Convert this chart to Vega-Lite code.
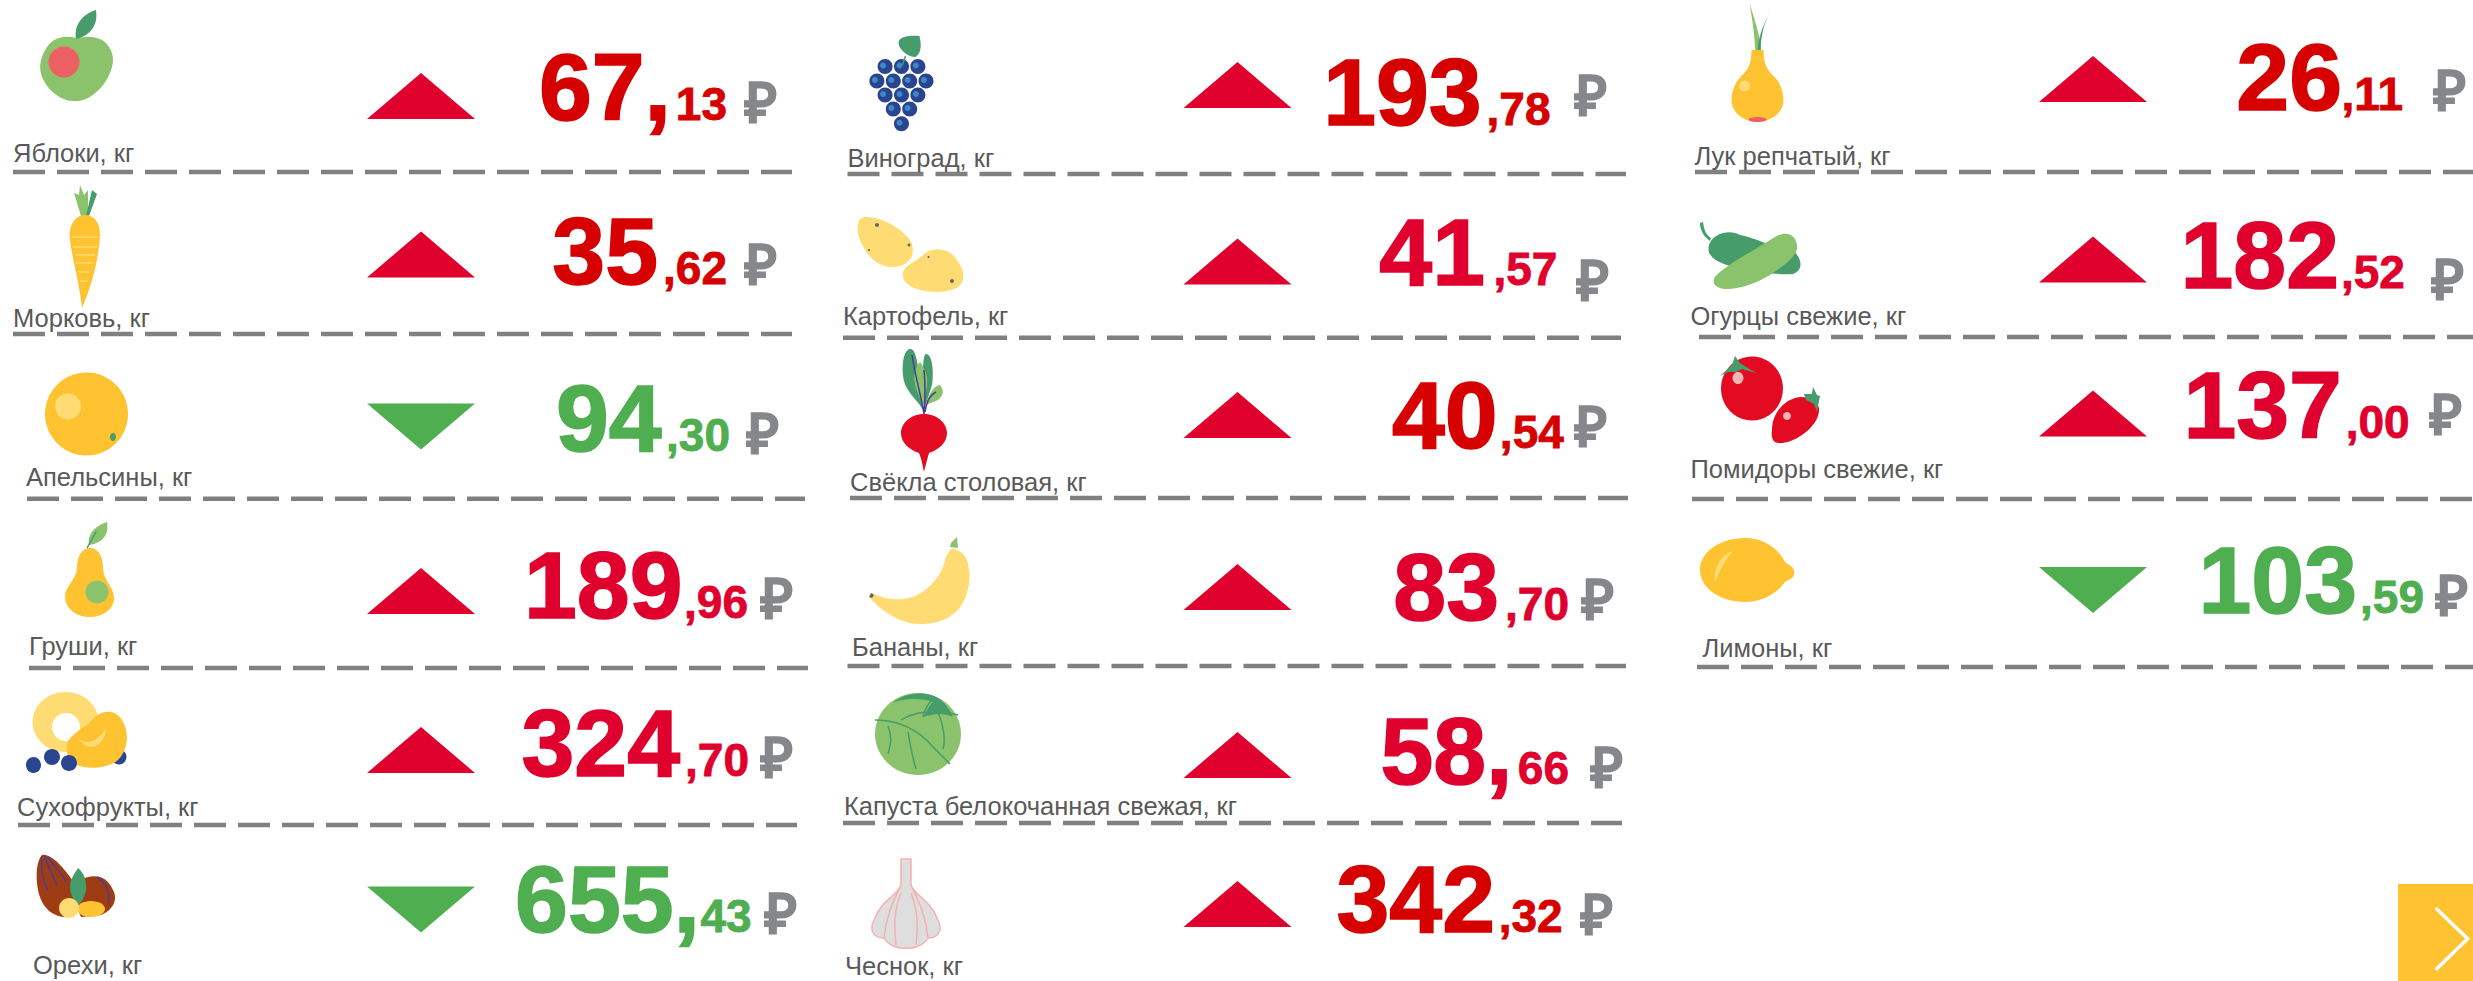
{"$schema":"https://vega.github.io/schema/vega-lite/v6.json","width":2473,"height":981,"padding":0,"autosize":"none","background":"#ffffff","config":{"view":{"stroke":null},"text":{"font":"Liberation Sans"}},
"datasets":{
"items":[
{"n":1,"name":"Яблоки, кг","rub":"67,","kop":"13","ruble":"₽","dir":"up","tone":"deep"},
{"n":2,"name":"Морковь, кг","rub":"35","kop":",62","ruble":"₽","dir":"up","tone":"deep"},
{"n":3,"name":"Апельсины, кг","rub":"94","kop":",30","ruble":"₽","dir":"down","tone":"green"},
{"n":4,"name":"Груши, кг","rub":"189","kop":",96","ruble":"₽","dir":"up","tone":"crimson"},
{"n":5,"name":"Сухофрукты, кг","rub":"324","kop":",70","ruble":"₽","dir":"up","tone":"crimson"},
{"n":6,"name":"Орехи, кг","rub":"655,","kop":"43","ruble":"₽","dir":"down","tone":"green"},
{"n":7,"name":"Виноград, кг","rub":"193","kop":",78","ruble":"₽","dir":"up","tone":"deep"},
{"n":8,"name":"Картофель, кг","rub":"41","kop":",57","ruble":"₽","dir":"up","tone":"crimson"},
{"n":9,"name":"Свёкла столовая, кг","rub":"40","kop":",54","ruble":"₽","dir":"up","tone":"deep"},
{"n":10,"name":"Бананы, кг","rub":"83","kop":",70","ruble":"₽","dir":"up","tone":"crimson"},
{"n":11,"name":"Капуста белокочанная свежая, кг","rub":"58,","kop":"66","ruble":"₽","dir":"up","tone":"crimson"},
{"n":12,"name":"Чеснок, кг","rub":"342","kop":",32","ruble":"₽","dir":"up","tone":"deep"},
{"n":13,"name":"Лук репчатый, кг","rub":"26","kop":",11","ruble":"₽","dir":"up","tone":"deep"},
{"n":14,"name":"Огурцы свежие, кг","rub":"182","kop":",52","ruble":"₽","dir":"up","tone":"crimson"},
{"n":15,"name":"Помидоры свежие, кг","rub":"137","kop":",00","ruble":"₽","dir":"up","tone":"crimson"},
{"n":16,"name":"Лимоны, кг","rub":"103","kop":",59","ruble":"₽","dir":"down","tone":"green"}],
"dividers":[{"from":1,"to":15},{"from":2,"to":16},{"from":3,"to":17},{"from":4,"to":18},{"from":5,"to":19},{"from":6,"to":20},{"from":7,"to":21},{"from":8,"to":22},{"from":9,"to":23},{"from":10,"to":24},{"from":11,"to":25},{"from":12,"to":26},{"from":13,"to":27},{"from":14,"to":28}],
"iconParts":[
{"n":1,"part":"appleBody","tint":"leaf"},{"n":1,"part":"appleLeaf","tint":"forest"},{"n":1,"part":"appleSpot","tint":"coral"},
{"n":2,"part":"carrotTopA","tint":"leaf"},{"n":2,"part":"carrotTopB","tint":"forest"},{"n":2,"part":"carrotBody","tint":"gold"},
{"n":3,"part":"orangeBody","tint":"gold"},{"n":3,"part":"orangeShine","tint":"cream"},{"n":3,"part":"orangeDot","tint":"forest"},
{"n":4,"part":"pearLeaf","tint":"leaf"},{"n":4,"part":"pearBody","tint":"gold"},{"n":4,"part":"pearSpot","tint":"leaf"},
{"n":5,"part":"berryBack","tint":"navy"},{"n":5,"part":"ring","tint":"cream"},{"n":5,"part":"ringHole","tint":"white"},{"n":5,"part":"apricot","tint":"gold"},{"n":5,"part":"apricotShine","tint":"cream"},{"n":5,"part":"berries","tint":"navy"},
{"n":6,"part":"almond","tint":"brown"},{"n":6,"part":"hazel","tint":"brown"},{"n":6,"part":"nutLeaf","tint":"forest"},{"n":6,"part":"nutGold","tint":"gold"},{"n":6,"part":"nutCream","tint":"cream"},
{"n":7,"part":"grapeLeaf","tint":"forest"},{"n":7,"part":"grapes","tint":"navy"},{"n":7,"part":"grapeShine","tint":"sky"},
{"n":8,"part":"potatoes","tint":"cream"},{"n":8,"part":"potatoDots","tint":"slate"},
{"n":9,"part":"beetDark","tint":"forest"},{"n":9,"part":"beetLight","tint":"leaf"},{"n":9,"part":"beetRoot","tint":"red"},
{"n":10,"part":"banana","tint":"cream"},{"n":10,"part":"bananaTip","tint":"leaf"},{"n":10,"part":"bananaEnd","tint":"slate"},
{"n":11,"part":"cabbage","tint":"leaf"},{"n":11,"part":"cabbageTop","tint":"forest"},
{"n":12,"part":"garlic","tint":"silver"},
{"n":13,"part":"onionGreenA","tint":"leaf"},{"n":13,"part":"onionGreenB","tint":"forest"},{"n":13,"part":"onion","tint":"gold"},{"n":13,"part":"onionShine","tint":"cream"},{"n":13,"part":"onionBase","tint":"coral"},
{"n":14,"part":"cukeStem","tint":"forest"},{"n":14,"part":"cukeDark","tint":"forest"},{"n":14,"part":"cuke","tint":"leaf"},
{"n":15,"part":"tomatoA","tint":"red"},{"n":15,"part":"tomatoB","tint":"red"},{"n":15,"part":"tomatoStars","tint":"forest"},{"n":15,"part":"tomatoShine","tint":"blush"},
{"n":16,"part":"lemon","tint":"gold"},{"n":16,"part":"lemonShine","tint":"cream"},
{"n":17,"part":"navBox","tint":"gold"}],
"iconLines":[
{"n":2,"part":"carrotStripes","tint":"cream"},
{"n":4,"part":"pearStem","tint":"forest"},
{"n":6,"part":"nutVeins","tint":"violet"},
{"n":7,"part":"grapeStem","tint":"forest"},
{"n":9,"part":"beetVeins","tint":"violet"},
{"n":11,"part":"cabbageVeins","tint":"forest"},
{"n":12,"part":"garlicOutline","tint":"pink"},
{"n":17,"part":"navArrow","tint":"white"}]},
"resolve":{"scale":{"x":"independent","y":"independent","color":"independent","fill":"independent","stroke":"independent","shape":"independent"}},
"layer":[
{"data":{"name":"dividers"},"mark":{"type":"rule","stroke":"#808080","strokeWidth":4.5,"strokeDash":[32,12]},
"encoding":{"x":{"field":"from","type":"quantitative","axis":null,"scale":{"domain":[1,2,3,4,5,6,7,8,9,10,11,12,13,14,15,16,17,18,19,20,21,22,23,24,25,26,27,28],"range":[13,13,27,29,18,847.5,843,850,847.5,843,1695,1699,1692,1697,792,792,805,808,797,1626,1621,1628,1626,1622,2473,2473,2473,2473]}},"x2":{"field":"to"},
"y":{"field":"from","type":"quantitative","axis":null,"scale":{"domain":[1,2,3,4,5,6,7,8,9,10,11,12,13,14],"range":[172,334,498.7,668,825,174,337.7,498,666,823,172,337,499,667]}}}},
{"data":{"name":"iconParts"},"mark":{"type":"point","filled":true,"opacity":1,"size":4,"strokeWidth":0},
"encoding":{"x":{"field":"n","type":"quantitative","axis":null,"scale":{"domain":[1,2,3,4,5,6,7,8,9,10,11,12,13,14,15,16,17],"range":[77,85,86.5,90,70,75,901.5,910,924,920,918,906,1757.5,1755,1770,1745,2435.5]}},
"y":{"field":"n","type":"quantitative","axis":null,"scale":{"domain":[1,2,3,4,5,6,7,8,9,10,11,12,13,14,15,16,17],"range":[69,250,414,583,730,885,95,254,430,580,734,905,90,255,400,570,932.5]}},
"fill":{"field":"tint","type":"nominal","legend":null,"scale":{"domain":["gold","cream","leaf","forest","red","coral","navy","sky","brown","white","silver","slate","blush"],"range":["#FFC230","#FFDC73","#8AC36C","#469C6A","#E30B22","#EC6064","#2A4590","#3F87C9","#9E3D14","#FFFFFF","#DEDEDE","#666666","#F5B5B5"]}},
"shape":{"field":"part","type":"nominal","legend":null,"scale":{"domain":["appleBody","appleLeaf","appleSpot","carrotTopA","carrotTopB","carrotBody","orangeBody","orangeShine","orangeDot","pearLeaf","pearBody","pearSpot","berryBack","ring","ringHole","apricot","apricotShine","berries","almond","hazel","nutLeaf","nutGold","nutCream","grapeLeaf","grapes","grapeShine","potatoes","potatoDots","beetDark","beetLight","beetRoot","banana","bananaTip","bananaEnd","cabbage","cabbageTop","garlic","onionGreenA","onionGreenB","onion","onionShine","onionBase","cukeStem","cukeDark","cuke","tomatoA","tomatoB","tomatoStars","tomatoShine","lemon","lemonShine","navBox"],
"range":[
"M-1,-31C-8,-33 -22,-34 -30,-22C-38,-10 -39,2 -33,12C-27,24 -13,33 -2,32C10,33 24,22 31,8C38,-5 38,-16 29,-26C20,-34 9,-32 -1,-31Z",
"M-1,-30C-3,-42 3,-54 19,-59C21,-45 15,-34 -1,-30Z",
"M-28.5,-7a15.5,15.5 0 1 0 31,0a15.5,15.5 0 1 0 -31,0Z",
"M-4,-34L-11,-57L-6,-55L-5,-65L-1,-55L3,-60L3,-34Z",
"M1,-34L7,-60L12,-56L4,-34Z",
"M0,-35C9,-35 15,-28 15,-15C14,5 9,30 -3,58C-6,30 -14,5 -15.5,-15C-15,-28 -8,-35 0,-35Z",
"M-41.5,0a41.5,41.5 0 1 0 83,0a41.5,41.5 0 1 0 -83,0Z",
"M-31.5,-7.5a13,13 0 1 0 26,0a13,13 0 1 0 -26,0Z",
"M23.5,23a3,4 0 1 0 6,0a3,4 0 1 0 -6,0Z",
"M-1,-38C-3,-48 4,-57 17,-61C19,-50 14,-40 -1,-38Z",
"M0,-35C8,-35 13,-27 13,-15C13,-3 24,4 24,15C24,27 12,34 0,34C-12,34 -25,27 -25,13C-25,3 -13,-4 -13,-15C-13,-27 -8,-35 0,-35Z",
"M-4.5,9a11.5,11.5 0 1 0 23,0a11.5,11.5 0 1 0 -23,0Z",
"M41.5,27a7.5,7.5 0 1 0 15,0a7.5,7.5 0 1 0 -15,0Z",
"M-37.5,-8a33,30 0 1 0 66,0a33,30 0 1 0 -66,0Z",
"M-18,-3a14,14 0 1 0 28,0a14,14 0 1 0 -28,0Z",
"M-3,15C-2,5 15,-2 22,-10C30,-20 45,-22 52,-10C60,3 58,20 48,30C38,39 15,40 5,34C-2,30 -4,24 -3,15Z",
"M8,8C16,16 28,12 36,-2C36,14 20,26 8,8Z",
"M-44,35a7.5,8 0 1 0 15,0a7.5,8 0 1 0 -15,0ZM-26,27a8,8 0 1 0 16,0a8,8 0 1 0 -16,0ZM-9,33a8,8 0 1 0 16,0a8,8 0 1 0 -16,0Z",
"M-33,-30C-22,-32 -5,-10 3,5C6,18 4,28 -6,32C-20,33 -33,25 -37,5C-40,-10 -38,-25 -33,-30Z",
"M5,-5C18,-12 32,-10 38,5C44,16 36,26 26,30L6,32C0,20 0,5 5,-5Z",
"M3,-17C9,-12 12,-5 11,5C9,14 6,18 3,20C-2,15 -5,8 -5,2C-5,-6 0,-12 3,-17Z",
"M2,24a14,8 0 1 0 28,0a14,8 0 1 0 -28,0Z",
"M-16,23a10,10 0 1 0 20,0a10,10 0 1 0 -20,0Z",
"M18,-59C20,-50 20,-42 14,-38C6,-38 -3,-46 -3,-52C-3,-58 6,-60 18,-59Z",
"M-23.9,-28.5a7.5,7.5 0 1 0 15,0a7.5,7.5 0 1 0 -15,0ZM-7.5,-28.5a7.5,7.5 0 1 0 15,0a7.5,7.5 0 1 0 -15,0ZM8.9,-28.5a7.5,7.5 0 1 0 15,0a7.5,7.5 0 1 0 -15,0ZM-32.1,-14a7.5,7.5 0 1 0 15,0a7.5,7.5 0 1 0 -15,0ZM-15.7,-14a7.5,7.5 0 1 0 15,0a7.5,7.5 0 1 0 -15,0ZM0.7,-14a7.5,7.5 0 1 0 15,0a7.5,7.5 0 1 0 -15,0ZM17,-14a7.5,7.5 0 1 0 15,0a7.5,7.5 0 1 0 -15,0ZM-23.9,0a7.5,7.5 0 1 0 15,0a7.5,7.5 0 1 0 -15,0ZM-7.5,0a7.5,7.5 0 1 0 15,0a7.5,7.5 0 1 0 -15,0ZM8.9,0a7.5,7.5 0 1 0 15,0a7.5,7.5 0 1 0 -15,0ZM-15.7,14a7.5,7.5 0 1 0 15,0a7.5,7.5 0 1 0 -15,0ZM0.7,14a7.5,7.5 0 1 0 15,0a7.5,7.5 0 1 0 -15,0ZM-7.5,28.7a7.5,7.5 0 1 0 15,0a7.5,7.5 0 1 0 -15,0Z",
"M-21.4,-29.5a3,3 0 1 0 6,0a3,3 0 1 0 -6,0ZM-5,-29.5a3,3 0 1 0 6,0a3,3 0 1 0 -6,0ZM11.4,-29.5a3,3 0 1 0 6,0a3,3 0 1 0 -6,0ZM-29.6,-15a3,3 0 1 0 6,0a3,3 0 1 0 -6,0ZM-13.2,-15a3,3 0 1 0 6,0a3,3 0 1 0 -6,0ZM3.2,-15a3,3 0 1 0 6,0a3,3 0 1 0 -6,0ZM19.5,-15a3,3 0 1 0 6,0a3,3 0 1 0 -6,0ZM-21.4,-1a3,3 0 1 0 6,0a3,3 0 1 0 -6,0ZM-5,-1a3,3 0 1 0 6,0a3,3 0 1 0 -6,0ZM11.4,-1a3,3 0 1 0 6,0a3,3 0 1 0 -6,0ZM-13.2,13a3,3 0 1 0 6,0a3,3 0 1 0 -6,0ZM3.2,13a3,3 0 1 0 6,0a3,3 0 1 0 -6,0ZM-5,27.7a3,3 0 1 0 6,0a3,3 0 1 0 -6,0Z",
"M-46,-37C-32,-38 -10,-28 0,-14C6,-4 3,8 -10,12C-24,16 -40,8 -47,-8C-54,-20 -55,-34 -46,-37ZM-7,21C-8,12 6,8 14,0C24,-8 40,-6 47,6C56,18 56,30 44,35C30,40 12,38 2,33C-4,30 -7,26 -7,21Z",
"M-35,-29a2,2 0 1 0 4,0a2,2 0 1 0 -4,0ZM-2.5,-9a1.5,1.5 0 1 0 3,0a1.5,1.5 0 1 0 -3,0ZM-42,-4a1,1 0 1 0 2,0a1,1 0 1 0 -2,0ZM40,27a2,2 0 1 0 4,0a2,2 0 1 0 -4,0ZM17.5,3a1,1 0 1 0 2,0a1,1 0 1 0 -2,0Z",
"M-14,-81C-8,-82 -6,-65 -4,-50L0,-18C-5,-30 -20,-38 -21,-55C-22,-68 -20,-80 -14,-81ZM2,-76C8,-76 10,-60 8,-45L0,-20L-1,-60C-1,-68 0,-76 2,-76Z",
"M-4,-68C2,-60 5,-50 2,-40L0,-25C-6,-35 -12,-48 -9,-58C-8,-63 -6,-66 -4,-68ZM16,-45C20,-40 20,-35 14,-30L2,-25C4,-33 8,-44 16,-45Z",
"M0,-16C14,-16 23,-6 23,3C23,13 14,20 5,23C3,30 1,38 0,42C-1,38 -2,30 -5,23C-14,20 -23,13 -23,3C-23,-6 -14,-16 0,-16Z",
"M32,-32C37,-30 44,-28 47,-20C52,-5 50,15 38,30C26,42 12,44 0,44C-20,44 -40,30 -50,18L-48,13C-35,20 -20,21 -8,17C8,12 22,-5 25,-20C26,-25 29,-28 32,-32Z",
"M30,-33L31,-37L37,-43L38,-32Z",
"M-51,17L-49,13L-46,15L-48,18Z",
"M-43,0a43,41 0 1 0 86,0a43,41 0 1 0 -86,0Z",
"M-25,-31C-15,-41 10,-45 24,-33C30,-27 33,-22 35,-17C25,-22 15,-20 5,-17C10,-25 12,-30 15,-32C5,-36 -15,-36 -25,-31Z",
"M-5,-46H5V-20C8,-10 25,-5 32,15C38,28 30,33 22,33C18,40 8,44 0,43C-8,44 -18,40 -22,33C-30,33 -38,28 -32,15C-25,-5 -8,-10 -5,-20Z",
"M-8,-87C-3,-70 3,-55 4,-35L-2,-35C-3,-55 -5,-70 -8,-87Z",
"M13,-78C5,-65 3,-50 3,-36L0,-36C0,-50 5,-65 13,-78Z",
"M-6,-40L6,-40C6,-25 10,-20 16,-14C23,-8 26,3 26,10C26,22 14,32 0,32C-14,32 -26,22 -26,10C-26,3 -23,-8 -16,-14C-10,-20 -6,-25 -6,-40Z",
"M-18.5,-4a5.5,5.5 0 1 0 11,0a5.5,5.5 0 1 0 -11,0Z",
"M-9,29.5a9,2.5 0 1 0 18,0a9,2.5 0 1 0 -18,0Z",
"M-55,-32L-52,-33C-51,-25 -49,-20 -44,-17L-45,-14C-51,-18 -55,-25 -55,-32Z",
"M-46,-10C-42,-22 -25,-26 -15,-20C-5,-18 5,-14 10,-12L38,-5C48,5 48,15 38,19C25,20 10,18 -10,15C-30,10 -50,5 -46,-10Z",
"M-40,22C-30,10 0,-5 20,-18C30,-24 40,-22 42,-10C44,0 30,10 15,20C-5,32 -25,36 -35,33C-41,31 -43,27 -40,22Z",
"M-49,-11.5a31,32 0 1 0 62,0a31,32 0 1 0 -62,0Z",
"M2,30C2,15 12,2 25,-2C35,-5 47,0 49,8C50,18 42,28 32,35C22,42 10,45 5,42C2,40 1,35 2,30Z",
"M-50,-24L-38,-35L-35,-44L-30,-37L-14,-27L-28,-31L-34,-28L-42,-28ZM34,-6L42,-6L43,-13L47,-5L50,-4L48,6L47,12L44,4L36,0Z",
"M-37.5,-22a5.5,6 0 1 0 11,0a5.5,6 0 1 0 -11,0ZM13,16a4,4 0 1 0 8,0a4,4 0 1 0 -8,0Z",
"M0,-32C18,-32 33,-22 40,-8L47,-3C50,0 50,5 47,8L40,12C32,24 16,32 0,32C-25,32 -45,18 -45,0C-45,-18 -25,-32 0,-32Z",
"M-30,12C-32,0 -25,-15 -12,-19C-20,-10 -25,0 -30,12Z",
"M-37.5,-48.5H37.5V48.5H-37.5Z"]}}}},
{"data":{"name":"iconLines"},"transform":[{"filter":"datum.n<17"}],"mark":{"type":"point","filled":false,"fill":null,"opacity":1,"size":4,"strokeWidth":1.5},
"encoding":{"x":{"field":"n","type":"quantitative","axis":null,"scale":{"domain":[2,4,6,7,9,11,12],"range":[85,90,75,901.5,924,918,906]}},
"y":{"field":"n","type":"quantitative","axis":null,"scale":{"domain":[2,4,6,7,9,11,12],"range":[250,583,885,95,430,734,905]}},
"stroke":{"field":"tint","type":"nominal","legend":null,"scale":{"domain":["cream","forest","violet","pink"],"range":["#FFDC73","#469C6A","#4A3C93","#F7B0B0"]}},
"shape":{"field":"part","type":"nominal","legend":null,"scale":{"domain":["carrotStripes","pearStem","nutVeins","grapeStem","beetVeins","cabbageVeins","garlicOutline"],"range":[
"M-13,-13H13M-12,-3H12M-10,5H10M-9,13H8M-7,22H5M-5,31H3",
"M-3,-35L6,-51",
"M-33,-28C-35,-10 -30,0 -27,5M-30,-29C-26,-15 -20,-5 -18,0M-27,-28C-20,-18 -12,-10 -9,-3M22,-8C32,-2 35,8 33,18",
"M4,-39L1,-30",
"M0,-16C-3,-35 -8,-50 -12,-75M0,-16C1,-30 1,-50 0,-60M1,-18C3,-30 6,-35 12,-38",
"M-43,-14C-20,-14 0,-5 16,14L32,30M-17,-14C-5,-22 15,-25 40,-19M5,-17C6,-25 12,-33 17,-37M-30,-8C-25,5 -28,12 -30,20M-10,-2C-8,10 -5,25 -2,35M20,-22C25,-10 28,5 25,15",
"M-5,-46H5V-20C8,-10 25,-5 32,15C38,28 30,33 22,33C18,40 8,44 0,43C-8,44 -18,40 -22,33C-30,33 -38,28 -32,15C-25,-5 -8,-10 -5,-20ZM-5,-20C-12,-5 -20,10 -22,33M5,-20C12,-5 20,10 22,33M-5,-12C-12,5 -12,20 -10,40M5,-12C12,5 12,20 10,40"]}}}},
{"data":{"name":"iconLines"},"transform":[{"filter":"datum.n==17"}],"mark":{"type":"point","filled":false,"fill":null,"opacity":1,"size":4,"strokeWidth":3.5,"stroke":"#FFFFFF","strokeCap":"round","shape":"M1.2,-23.5L32.2,6.2L1.2,36.2"},
"encoding":{"x":{"field":"n","type":"quantitative","axis":null,"scale":{"domain":[17,18],"range":[2435.5,2436]}},"y":{"field":"n","type":"quantitative","axis":null,"scale":{"domain":[17,18],"range":[932.5,933]}}}},
{"data":{"name":"items"},"mark":{"type":"point","filled":true,"opacity":1,"size":4,"strokeWidth":0},
"encoding":{"x":{"field":"n","type":"quantitative","axis":null,"scale":{"domain":[1,2,3,4,5,6,7,8,9,10,11,12,13,14,15,16],"range":[421,421,421,421,421,421,1237.5,1237.5,1237.5,1237.5,1237.5,1237.5,2093,2093,2093,2093]}},
"y":{"field":"n","type":"quantitative","axis":null,"scale":{"domain":[1,2,3,4,5,6,7,8,9,10,11,12,13,14,15,16],"range":[96,254.5,426.5,591,750,909.5,85,261.5,415,587,755,904,79,259.5,413.5,590]}},
"shape":{"field":"dir","type":"nominal","legend":null,"scale":{"domain":["up","down"],"range":["M0,-23L54,23L-54,23Z","M-54,-23L54,-23L0,23Z"]}},
"fill":{"field":"dir","type":"nominal","legend":null,"scale":{"domain":["up","down"],"range":["#E0002D","#4FAE50"]}}}},
{"data":{"name":"items"},"mark":{"type":"text","align":"left","baseline":"alphabetic","fontSize":25.5,"font":"Liberation Sans","fill":"#595959"},
"encoding":{"text":{"field":"name"},"x":{"field":"n","type":"quantitative","axis":null,"scale":{"domain":[1,2,3,4,5,6,7,8,9,10,11,12,13,14,15,16],"range":[13,13,26,29,17,33,847.5,843,850,852,844,845,1694.6,1690.4,1690.4,1702.5]}},
"y":{"field":"n","type":"quantitative","axis":null,"scale":{"domain":[1,2,3,4,5,6,7,8,9,10,11,12,13,14,15,16],"range":[162,327,486,655,816,974,167,325,491,656,815,975,165,325,478,657]}}}},
{"data":{"name":"items"},"mark":{"type":"text","align":"right","baseline":"alphabetic","fontSize":95,"fontWeight":"bold","font":"Liberation Sans","strokeWidth":1.6},
"encoding":{"text":{"field":"rub"},"x":{"field":"n","type":"quantitative","axis":null,"scale":{"domain":[1,2,3,4,5,6,7,8,9,10,11,12,13,14,15,16],"range":[671,658,661.6,682.5,680,700,1481.7,1485,1497.6,1499,1512.5,1495,2342,2339,2341.9,2357]}},
"y":{"field":"n","type":"quantitative","axis":null,"scale":{"domain":[1,2,3,4,5,6,7,8,9,10,11,12,13,14,15,16],"range":[120,284,451,618,776,932,125,285,448,620,784,932,110,288,438,613]}},
"fill":{"field":"tone","type":"nominal","legend":null,"scale":{"domain":["deep","crimson","green"],"range":["#D60000","#E0002D","#4FAE50"]}},
"stroke":{"field":"tone","type":"nominal","legend":null,"scale":{"domain":["deep","crimson","green"],"range":["#D60000","#E0002D","#4FAE50"]}}}},
{"data":{"name":"items"},"mark":{"type":"text","align":"right","baseline":"alphabetic","fontSize":46,"fontWeight":"bold","font":"Liberation Sans","strokeWidth":0.8},
"encoding":{"text":{"field":"kop"},"x":{"field":"n","type":"quantitative","axis":null,"scale":{"domain":[1,2,3,4,5,6,7,8,9,10,11,12,13,14,15,16],"range":[727,727,730,748,749,751.6,1550.5,1557.4,1563.8,1569,1569,1562.7,2403,2404.9,2409.6,2424]}},
"y":{"field":"n","type":"quantitative","axis":null,"scale":{"domain":[1,2,3,4,5,6,7,8,9,10,11,12,13,14,15,16],"range":[120,284,451,618,776,932,125,285,448,620,784,932,110,288,438,613]}},
"fill":{"field":"tone","type":"nominal","legend":null,"scale":{"domain":["deep","crimson","green"],"range":["#D60000","#E0002D","#4FAE50"]}},
"stroke":{"field":"tone","type":"nominal","legend":null,"scale":{"domain":["deep","crimson","green"],"range":["#D60000","#E0002D","#4FAE50"]}}}},
{"data":{"name":"items"},"mark":{"type":"text","align":"center","baseline":"alphabetic","fontSize":55,"fontWeight":"bold","font":"Liberation Sans","fill":"#85878B","stroke":"#85878B","strokeWidth":1.4},
"encoding":{"text":{"field":"ruble"},"x":{"field":"n","type":"quantitative","axis":null,"scale":{"domain":[1,2,3,4,5,6,7,8,9,10,11,12,13,14,15,16],"range":[761,761,763,777,777,781,1591,1593,1591,1598,1607,1597,2450,2448,2446,2452]}},
"y":{"field":"n","type":"quantitative","axis":null,"scale":{"domain":[1,2,3,4,5,6,7,8,9,10,11,12,13,14,15,16],"range":[122,284,453,618,777,933,115,300,446,619,787,934,110,299,434,615]}}}}
]}
